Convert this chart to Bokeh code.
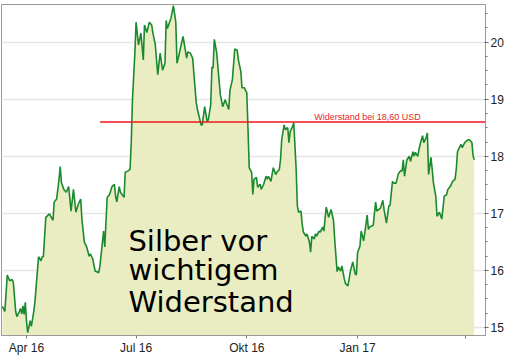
import pandas as pd
from bokeh.plotting import figure
from bokeh.models import (Range1d, FixedTicker, SingleIntervalTicker, Label,
                          ColumnDataSource)
from bokeh.embed import file_html
from bokeh.resources import INLINE

# ---- data ----
dates = [
    "2016-03-12", "2016-03-14", "2016-03-16", "2016-03-18", "2016-03-20", "2016-03-21",
    "2016-03-23", "2016-03-24", "2016-03-26", "2016-03-27", "2016-03-28", "2016-03-29",
    "2016-03-30", "2016-03-31", "2016-04-01", "2016-04-02", "2016-04-04", "2016-04-05",
    "2016-04-07", "2016-04-08", "2016-04-10", "2016-04-11", "2016-04-13", "2016-04-14",
    "2016-04-15", "2016-04-17", "2016-04-20", "2016-04-21", "2016-04-23", "2016-04-24",
    "2016-04-26", "2016-04-28", "2016-04-29", "2016-04-30", "2016-05-02", "2016-05-04",
    "2016-05-06", "2016-05-08", "2016-05-10", "2016-05-12", "2016-05-14", "2016-05-16",
    "2016-05-17", "2016-05-19", "2016-05-21", "2016-05-23", "2016-05-24", "2016-05-26",
    "2016-05-28", "2016-05-31", "2016-06-01", "2016-06-04", "2016-06-05", "2016-06-07",
    "2016-06-09", "2016-06-11", "2016-06-13", "2016-06-14", "2016-06-15", "2016-06-17",
    "2016-06-18", "2016-06-21", "2016-06-22", "2016-06-24", "2016-06-26", "2016-06-27",
    "2016-06-28", "2016-06-30", "2016-07-01", "2016-07-03", "2016-07-05", "2016-07-07",
    "2016-07-08", "2016-07-10", "2016-07-12", "2016-07-14", "2016-07-15", "2016-07-17",
    "2016-07-19", "2016-07-21", "2016-07-23", "2016-07-25", "2016-07-26", "2016-07-27",
    "2016-07-30", "2016-08-01", "2016-08-03", "2016-08-04", "2016-08-06", "2016-08-09",
    "2016-08-10", "2016-08-12", "2016-08-13", "2016-08-15", "2016-08-17", "2016-08-20",
    "2016-08-21", "2016-08-24", "2016-08-25", "2016-08-27", "2016-08-29", "2016-08-30",
    "2016-09-01", "2016-09-02", "2016-09-03", "2016-09-04", "2016-09-06", "2016-09-07",
    "2016-09-09", "2016-09-11", "2016-09-13", "2016-09-16", "2016-09-17", "2016-09-19",
    "2016-09-21", "2016-09-23", "2016-09-24", "2016-09-26", "2016-09-27", "2016-09-29",
    "2016-10-01", "2016-10-02", "2016-10-03", "2016-10-05", "2016-10-06", "2016-10-07",
    "2016-10-09", "2016-10-10", "2016-10-12", "2016-10-13", "2016-10-15", "2016-10-17",
    "2016-10-18", "2016-10-19", "2016-10-21", "2016-10-22", "2016-10-23", "2016-10-25",
    "2016-10-26", "2016-10-28", "2016-10-29", "2016-10-30", "2016-11-01", "2016-11-02",
    "2016-11-04", "2016-11-05", "2016-11-06", "2016-11-08", "2016-11-09", "2016-11-11",
    "2016-11-12", "2016-11-13", "2016-11-15", "2016-11-16", "2016-11-17", "2016-11-19",
    "2016-11-20", "2016-11-22", "2016-11-23", "2016-11-24", "2016-11-26", "2016-11-27",
    "2016-11-28", "2016-11-30", "2016-12-01", "2016-12-03", "2016-12-04", "2016-12-06",
    "2016-12-08", "2016-12-10", "2016-12-12", "2016-12-13", "2016-12-15", "2016-12-16",
    "2016-12-18", "2016-12-19", "2016-12-21", "2016-12-22", "2016-12-24", "2016-12-26",
    "2016-12-28", "2016-12-30", "2016-12-31", "2017-01-01", "2017-01-03", "2017-01-04",
    "2017-01-06", "2017-01-07", "2017-01-09", "2017-01-10", "2017-01-11", "2017-01-14",
    "2017-01-16", "2017-01-17", "2017-01-20", "2017-01-22", "2017-01-23", "2017-01-25",
    "2017-01-27", "2017-01-28", "2017-01-30", "2017-01-31", "2017-02-02", "2017-02-04",
    "2017-02-06", "2017-02-07", "2017-02-08", "2017-02-09", "2017-02-11", "2017-02-13",
    "2017-02-14", "2017-02-16", "2017-02-17", "2017-02-18", "2017-02-20", "2017-02-21",
    "2017-02-22", "2017-02-24", "2017-02-25", "2017-02-27", "2017-02-28", "2017-03-01",
    "2017-03-03", "2017-03-04", "2017-03-05", "2017-03-07", "2017-03-08", "2017-03-10",
    "2017-03-12", "2017-03-14", "2017-03-16", "2017-03-17", "2017-03-19", "2017-03-21",
    "2017-03-23", "2017-03-24", "2017-03-25", "2017-03-27", "2017-03-28", "2017-03-29",
    "2017-03-31", "2017-04-01", "2017-04-03", "2017-04-04", "2017-04-06", "2017-04-07",
    "2017-04-08",
]

prices = [
    15.37, 15.28, 15.92, 15.82, 15.84, 15.80,
    15.28, 15.19, 15.28, 15.33, 15.24, 15.38,
    15.23, 15.44, 15.10, 14.91, 15.12, 15.02,
    15.28, 15.45, 15.98, 16.24, 16.17, 16.24,
    16.24, 16.93, 16.99, 16.95, 16.88, 17.20,
    17.25, 17.60, 17.82, 17.54, 17.42, 17.37,
    17.47, 17.04, 17.42, 17.02, 17.16, 17.25,
    16.90, 16.50, 16.41, 16.25, 16.29, 16.20,
    15.99, 15.96, 16.08, 16.69, 16.41, 17.28,
    17.33, 17.47, 17.51, 17.30, 17.20, 17.47,
    17.37, 17.28, 17.72, 17.74, 17.77, 18.24,
    18.99, 19.81, 20.35, 19.95, 20.16, 19.69,
    20.30, 20.17, 20.35, 20.30, 20.16, 19.95,
    19.43, 19.81, 19.51, 19.63, 20.38, 20.24,
    20.42, 20.64, 20.35, 19.63, 19.81, 20.10,
    19.98, 19.72, 19.83, 19.81, 19.72, 18.94,
    18.82, 18.55, 18.55, 18.87, 18.61, 18.64,
    18.90, 19.56, 19.55, 20.05, 19.81, 19.56,
    19.08, 18.87, 18.99, 18.82, 19.16, 19.34,
    19.88, 19.86, 19.69, 19.49, 19.20, 19.20,
    19.11, 18.47, 17.80, 17.72, 17.33, 17.60,
    17.63, 17.46, 17.51, 17.42, 17.51, 17.65,
    17.60, 17.65, 17.56, 17.68, 17.80, 17.68,
    17.72, 17.77, 17.94, 18.29, 18.55, 18.47,
    18.50, 18.24, 18.43, 18.52, 18.59, 17.77,
    17.13, 17.02, 17.04, 16.81, 16.67, 16.60,
    16.64, 16.50, 16.32, 16.60, 16.55, 16.64,
    16.60, 16.69, 16.67, 16.76, 16.69, 17.11,
    16.93, 17.07, 16.88, 16.55, 15.98, 16.06,
    15.99, 16.08, 15.85, 15.77, 15.73, 15.98,
    16.15, 15.94, 15.92, 16.31, 16.43, 16.69,
    16.52, 16.66, 16.97, 16.72, 16.76, 16.79,
    17.20, 17.04, 17.09, 17.23, 17.07, 16.83,
    17.13, 17.14, 17.56, 17.53, 17.53, 17.70,
    17.75, 17.74, 17.94, 17.65, 17.94, 18.00,
    17.91, 18.08, 18.00, 18.07, 18.00, 18.12,
    18.21, 18.36, 18.24, 18.33, 18.41, 17.68,
    17.98, 17.77, 17.54, 17.30, 16.95, 17.02,
    16.90, 17.30, 17.33, 17.42, 17.47, 17.56,
    17.60, 17.77, 18.08, 18.17, 18.21, 18.15,
    18.24, 18.26, 18.29, 18.29, 18.24, 18.00,
    17.94,
]

tick_dates = ["2016-04-01", "2016-07-01", "2016-10-01", "2017-01-01", "2017-04-01"]
tick_labels = ["Apr 16", "Jul 16", "Okt 16", "Jan 17", ""]

resistance_level = 18.60
resistance_from = "2016-06-01"
resistance_text = "Widerstand bei 18,60 USD"

headline = ["Silber vor", "wichtigem", "Widerstand"]


def ms(d):
    return pd.Timestamp(d).value / 1e6


x_start = ms("2016-03-11 05:00")
x_end = ms("2017-04-17 07:00")

src = ColumnDataSource(dict(x=pd.to_datetime(dates), y=prices))

p = figure(width=506, height=357, x_axis_type="datetime", y_axis_location="right",
           output_backend="svg", toolbar_location=None,
           x_range=Range1d(x_start, x_end), y_range=Range1d(14.86, 20.66),
           min_border_left=1, min_border_top=4, min_border_right=21, min_border_bottom=20)

p.background_fill_color = "white"
p.border_fill_color = "white"
p.outline_line_color = "#9a9a9a"

# area + line
p.varea(x="x", y1=14.0, y2="y", source=src, fill_color="#e9edc1")
p.line(x="x", y="y", source=src, line_color="#1b8a2e", line_width=1.6)

# resistance line
res_src = ColumnDataSource(dict(x=[ms(resistance_from), x_end],
                                y=[resistance_level, resistance_level]))
p.line(x="x", y="y", source=res_src, line_color="#f0161c", line_width=1.6)
p.add_layout(Label(x=ms("2017-02-22 12:00"), y=resistance_level, y_offset=5,
                   text=resistance_text, text_align="right", text_baseline="alphabetic",
                   text_font="Liberation Sans", text_font_size="9px", text_color="#e8262b"))

# headline text
head_y = [16.515, 16.0, 15.455]
for line_text, yy in zip(headline, head_y):
    p.add_layout(Label(x=ms("2016-06-24 16:00"), y=yy, text=line_text,
                       text_align="left", text_baseline="alphabetic",
                       text_font="DejaVu Sans", text_font_size="29px",
                       text_color="black"))

# x axis
xt = [ms(d) for d in tick_dates]
p.xaxis.ticker = FixedTicker(ticks=xt, minor_ticks=[])
p.xaxis.major_label_overrides = {t: lab for t, lab in zip(xt, tick_labels)}
p.xaxis.major_tick_out = 3
p.xaxis.major_tick_in = 0
p.xaxis.major_label_standoff = 2
p.xaxis.axis_line_color = "#9a9a9a"
p.xaxis.major_tick_line_color = "#777777"
p.xaxis.major_label_text_font = "Liberation Sans"
p.xaxis.major_label_text_font_size = "12px"
p.xaxis.major_label_text_color = "#222222"

# y axis
p.yaxis.ticker = SingleIntervalTicker(interval=1, num_minor_ticks=4)
p.yaxis.major_tick_out = 3
p.yaxis.major_tick_in = 1
p.yaxis.minor_tick_out = 2
p.yaxis.minor_tick_in = 0
p.yaxis.major_label_standoff = 2
p.yaxis.axis_line_color = "#9a9a9a"
p.yaxis.major_tick_line_color = "#555555"
p.yaxis.minor_tick_line_color = "#777777"
p.yaxis.major_label_text_font = "Liberation Sans"
p.yaxis.major_label_text_font_size = "12px"
p.yaxis.major_label_text_color = "#222222"

# grid
p.xgrid.visible = False
p.ygrid.ticker = SingleIntervalTicker(interval=1)
p.ygrid.grid_line_color = "#e6e6e6"
p.ygrid.grid_line_width = 1.5

open("out.html", "w").write(file_html(p, INLINE))
